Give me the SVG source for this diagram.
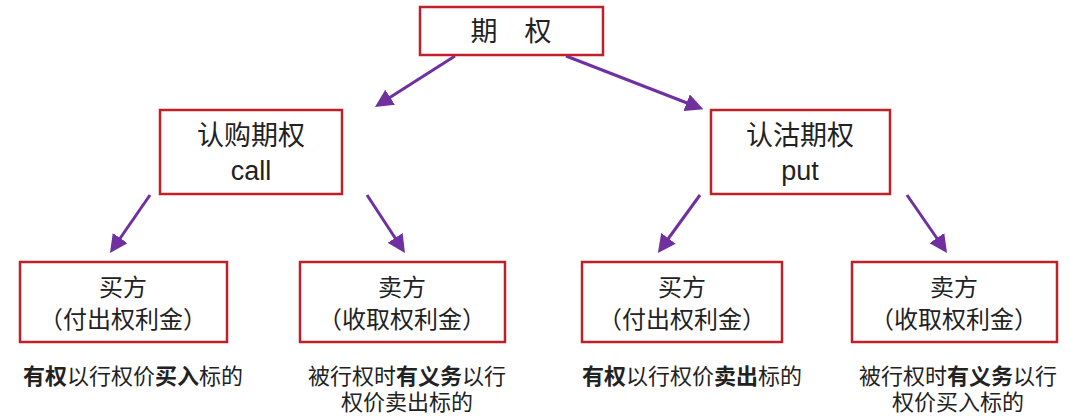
<svg xmlns="http://www.w3.org/2000/svg" width="1071" height="418" viewBox="0 0 1071 418">
<style>
.b{fill:#fff;stroke:#C0202A;stroke-width:2.5}
.t{font-family:"Liberation Sans","Noto Sans CJK SC",sans-serif;fill:#222;text-anchor:middle}
.l{font-size:27px}.m{font-size:24px}.s{font-size:22px}
.c{stroke:#7030A0;stroke-width:3;fill:none;marker-end:url(#a)}
</style>
<defs><marker id="a" viewBox="0 0 10 10" refX="8" refY="5" markerWidth="6" markerHeight="6" orient="auto"><path d="M0,0L10,5L0,10z" fill="#7030A0"/></marker></defs>
<rect width="1071" height="418" fill="#fff"/>
<g id="connectors">
<path class="c" d="M455,56L378,105"/><path class="c" d="M566,56L700,108"/>
<path class="c" d="M150,195L112,250"/><path class="c" d="M367,195L403,250"/>
<path class="c" d="M700,195L660,250"/><path class="c" d="M907,195L945,250"/>
</g>
<g id="top"><rect class="b" x="420" y="7" width="183" height="48"/><text class="t l" x="511" y="41">期　权</text></g>
<g id="call"><rect class="b" x="160" y="110" width="182" height="84"/><text class="t l" x="251" y="145">认购期权</text><text class="t l" x="251" y="180">call</text></g>
<g id="put"><rect class="b" x="711" y="110" width="179" height="84"/><text class="t l" x="800" y="145">认沽期权</text><text class="t l" x="800" y="180">put</text></g>
<g id="n1"><rect class="b" x="20" y="262" width="207" height="80"/><text class="t m" x="123" y="296">买方</text><text class="t m" x="123" y="328">（付出权利金）</text>
<text class="t s" x="133" y="384"><tspan font-weight="bold">有权</tspan>以行权价<tspan font-weight="bold">买入</tspan>标的</text></g>
<g id="n2"><rect class="b" x="300" y="262" width="205" height="80"/><text class="t m" x="402" y="296">卖方</text><text class="t m" x="402" y="328">（收取权利金）</text>
<text class="t s" x="407" y="384">被行权时<tspan font-weight="bold">有义务</tspan>以行</text><text class="t s" x="407" y="410">权价卖出标的</text></g>
<g id="n3"><rect class="b" x="582" y="262" width="200" height="80"/><text class="t m" x="682" y="296">买方</text><text class="t m" x="682" y="328">（付出权利金）</text>
<text class="t s" x="692" y="384"><tspan font-weight="bold">有权</tspan>以行权价<tspan font-weight="bold">卖出</tspan>标的</text></g>
<g id="n4"><rect class="b" x="852" y="262" width="205" height="80"/><text class="t m" x="954" y="296">卖方</text><text class="t m" x="954" y="328">（收取权利金）</text>
<text class="t s" x="958" y="384">被行权时<tspan font-weight="bold">有义务</tspan>以行</text><text class="t s" x="958" y="410">权价买入标的</text></g>
</svg>
